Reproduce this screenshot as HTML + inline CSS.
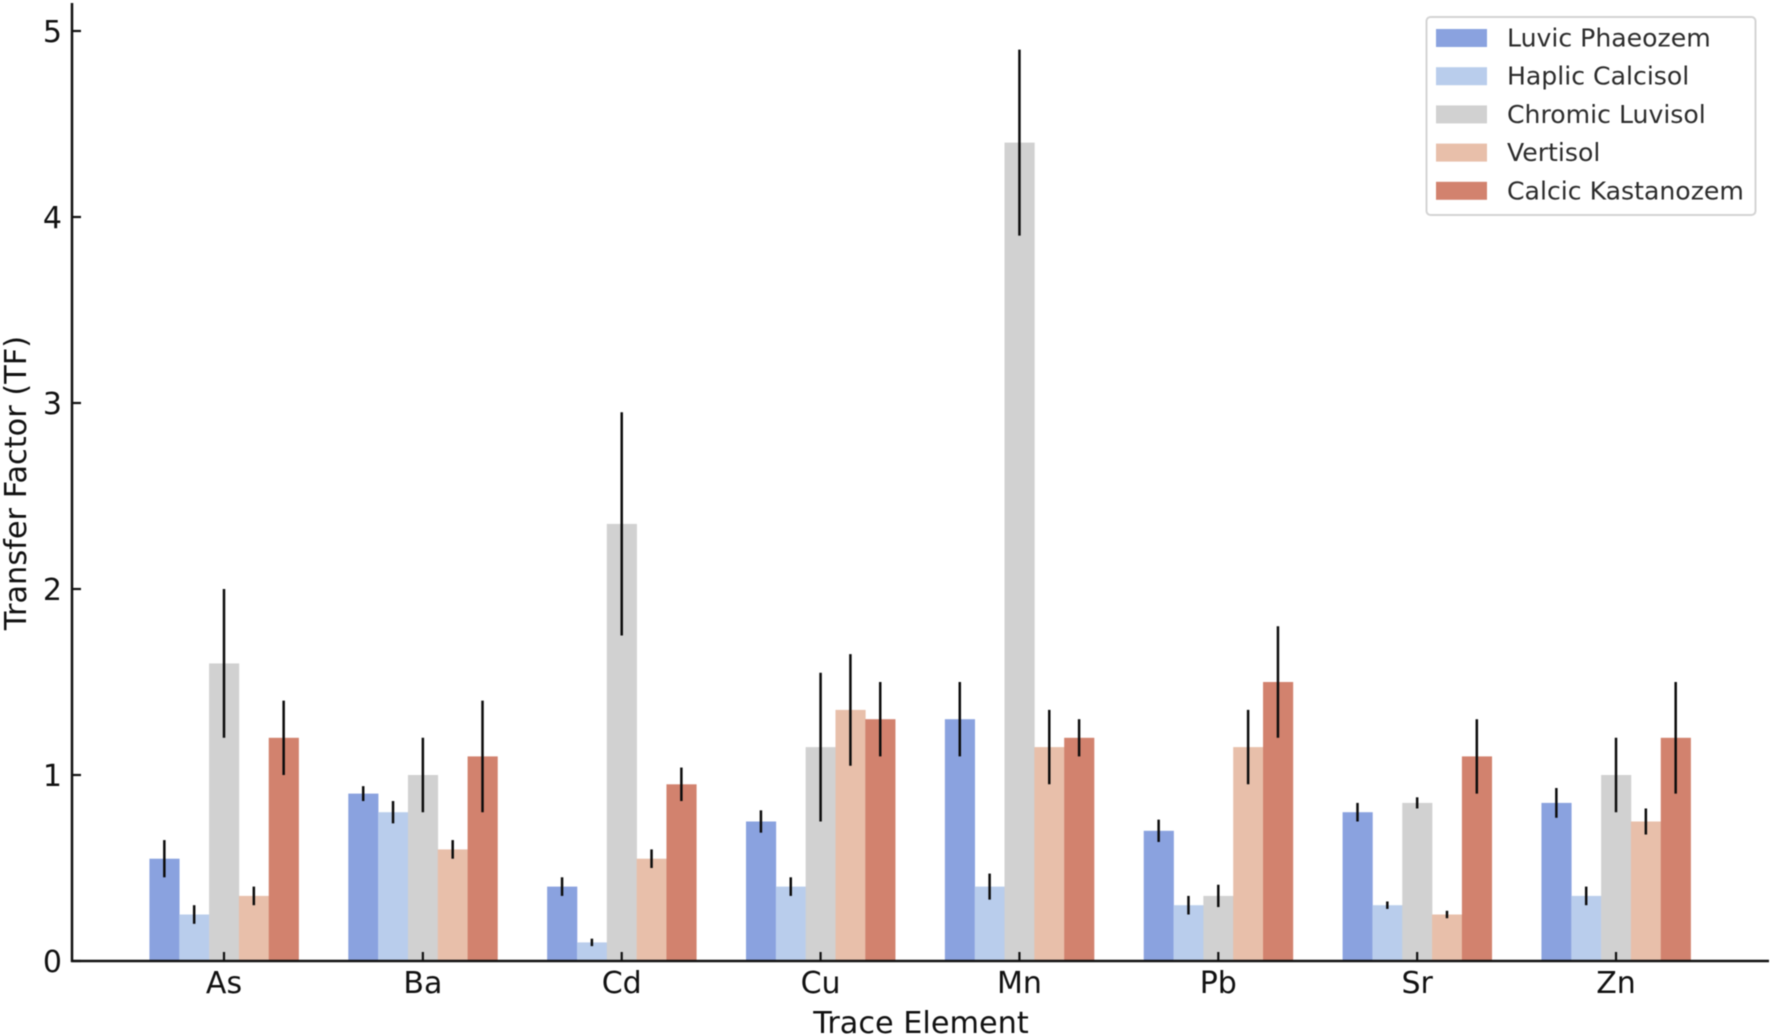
<!DOCTYPE html>
<html>
<head>
<meta charset="utf-8">
<title>Transfer Factor by Trace Element</title>
<style>
html,body{margin:0;padding:0;background:#fff;width:1772px;height:1036px;overflow:hidden}
svg{display:block;filter:blur(0.5px)}
text{font-family:"DejaVu Sans","Liberation Sans",sans-serif;fill:#111}
</style>
</head>
<body>
<svg id="chart" xmlns="http://www.w3.org/2000/svg" width="1772" height="1036" viewBox="0 0 1772 1036"></svg>
<script>
const categories = ['As','Ba','Cd','Cu','Mn','Pb','Sr','Zn'];
const seriesNames = ['Luvic Phaeozem','Haplic Calcisol','Chromic Luvisol','Vertisol','Calcic Kastanozem'];
const seriesColors = ['#8aa2df','#b9cdec','#d1d1d1','#e8bfaa','#d2826e'];
const luvicPhaeozem = [0.55,0.9,0.4,0.75,1.3,0.7,0.8,0.85];
const haplicCalcisol = [0.25,0.8,0.1,0.4,0.4,0.3,0.3,0.35];
const chromicLuvisol = [1.6,1.0,2.35,1.15,4.4,0.35,0.85,1.0];
const vertisol = [0.35,0.6,0.55,1.35,1.15,1.15,0.25,0.75];
const calcicKastanozem = [1.2,1.1,0.95,1.3,1.2,1.5,1.1,1.2];
const luvicPhaeozemErr = [0.1,0.04,0.05,0.06,0.2,0.06,0.05,0.08];
const haplicCalcisolErr = [0.05,0.06,0.02,0.05,0.07,0.05,0.02,0.05];
const chromicLuvisolErr = [0.4,0.2,0.6,0.4,0.5,0.06,0.03,0.2];
const vertisolErr = [0.05,0.05,0.05,0.3,0.2,0.2,0.02,0.07];
const calcicKastanozemErr = [0.2,0.3,0.09,0.2,0.1,0.3,0.2,0.3];
const yTicks = [0,1,2,3,4,5];

const seriesValues = [luvicPhaeozem,haplicCalcisol,chromicLuvisol,vertisol,calcicKastanozem];
const seriesErrors = [luvicPhaeozemErr,haplicCalcisolErr,chromicLuvisolErr,vertisolErr,calcicKastanozemErr];

const NS = 'http://www.w3.org/2000/svg';
const svg = document.getElementById('chart');
const plotLeft = 72, plotRight = 1769, plotTop = 3, plotBottom = 961;
const catStart = 224, catStep = 198.86;
const barW = catStep * 0.15;
const unit = 186;
function xScale(i){ return catStart + i * catStep; }
function yScale(v){ return plotBottom - v * unit; }
function make(tag, attrs, parent){
  const el = document.createElementNS(NS, tag);
  for (const k in attrs) el.setAttribute(k, attrs[k]);
  (parent || svg).appendChild(el);
  return el;
}
function slug(s){ return s.toLowerCase().replace(/\s+/g,'-'); }

// bars
seriesValues.forEach(function(vals, s){
  vals.forEach(function(v, i){
    const r = make('rect', {x: xScale(i) + (s - 2.5) * barW, y: yScale(v), width: barW + 0.3, height: plotBottom - yScale(v), fill: seriesColors[s]});
    
    
  });
});
// error bars
seriesValues.forEach(function(vals, s){
  vals.forEach(function(v, i){
    const cx = xScale(i) + (s - 2) * barW;
    const e = seriesErrors[s][i];
    const l = make('line', {x1: cx, x2: cx, y1: yScale(v - e), y2: yScale(v + e), stroke: '#0c0c0c', 'stroke-width': 2.5});
    
    
  });
});
// spines
const ySpine = make('line', {x1: plotLeft, x2: plotLeft, y1: plotTop, y2: plotBottom + 1, stroke: '#111', 'stroke-width': 2.5});


const xSpine = make('line', {x1: plotLeft - 1, x2: plotRight, y1: plotBottom, y2: plotBottom, stroke: '#111', 'stroke-width': 2.5});


// y ticks
yTicks.forEach(function(t){
  const m = make('line', {x1: plotLeft, x2: plotLeft + 9, y1: yScale(t), y2: yScale(t), stroke: '#111', 'stroke-width': 2.2});
  
  
  const lb = make('text', {x: 62, y: yScale(t) + 11, 'text-anchor': 'end', 'font-size': 30});
  lb.textContent = String(t);
  
  
});
// x ticks
categories.forEach(function(c, i){
  const m = make('line', {x1: xScale(i), x2: xScale(i), y1: plotBottom, y2: plotBottom - 9, stroke: '#111', 'stroke-width': 2.2});
  
  
  const lb = make('text', {x: xScale(i), y: 993, 'text-anchor': 'middle', 'font-size': 30});
  lb.textContent = c;
  
  
});
// axis titles
const xTitle = make('text', {x: 921, y: 1033, 'text-anchor': 'middle', 'font-size': 30.3});
xTitle.textContent = 'Trace Element';


const yTitle = make('text', {x: 0, y: 0, 'text-anchor': 'middle', 'font-size': 30.4, transform: 'translate(26,483) rotate(-90)'});
yTitle.textContent = 'Transfer Factor (TF)';


// legend
const legend = make('g', {});


const legendBox = make('rect', {x: 1426.5, y: 17, width: 329, height: 198, rx: 4, fill: '#fff', 'fill-opacity': 0.9, stroke: '#d4d4d4', 'stroke-width': 2}, legend);


seriesNames.forEach(function(n, s){
  const cy = 38 + s * 38.2;
  const sw = make('rect', {x: 1436, y: cy - 9, width: 51, height: 18, fill: seriesColors[s]}, legend);
  
  
  const t = make('text', {x: 1507, y: cy + 8.5, 'font-size': 25.15, style: 'fill:#2c2c2c'}, legend);
  t.textContent = n;
  
  
});
</script>
</body>
</html>
